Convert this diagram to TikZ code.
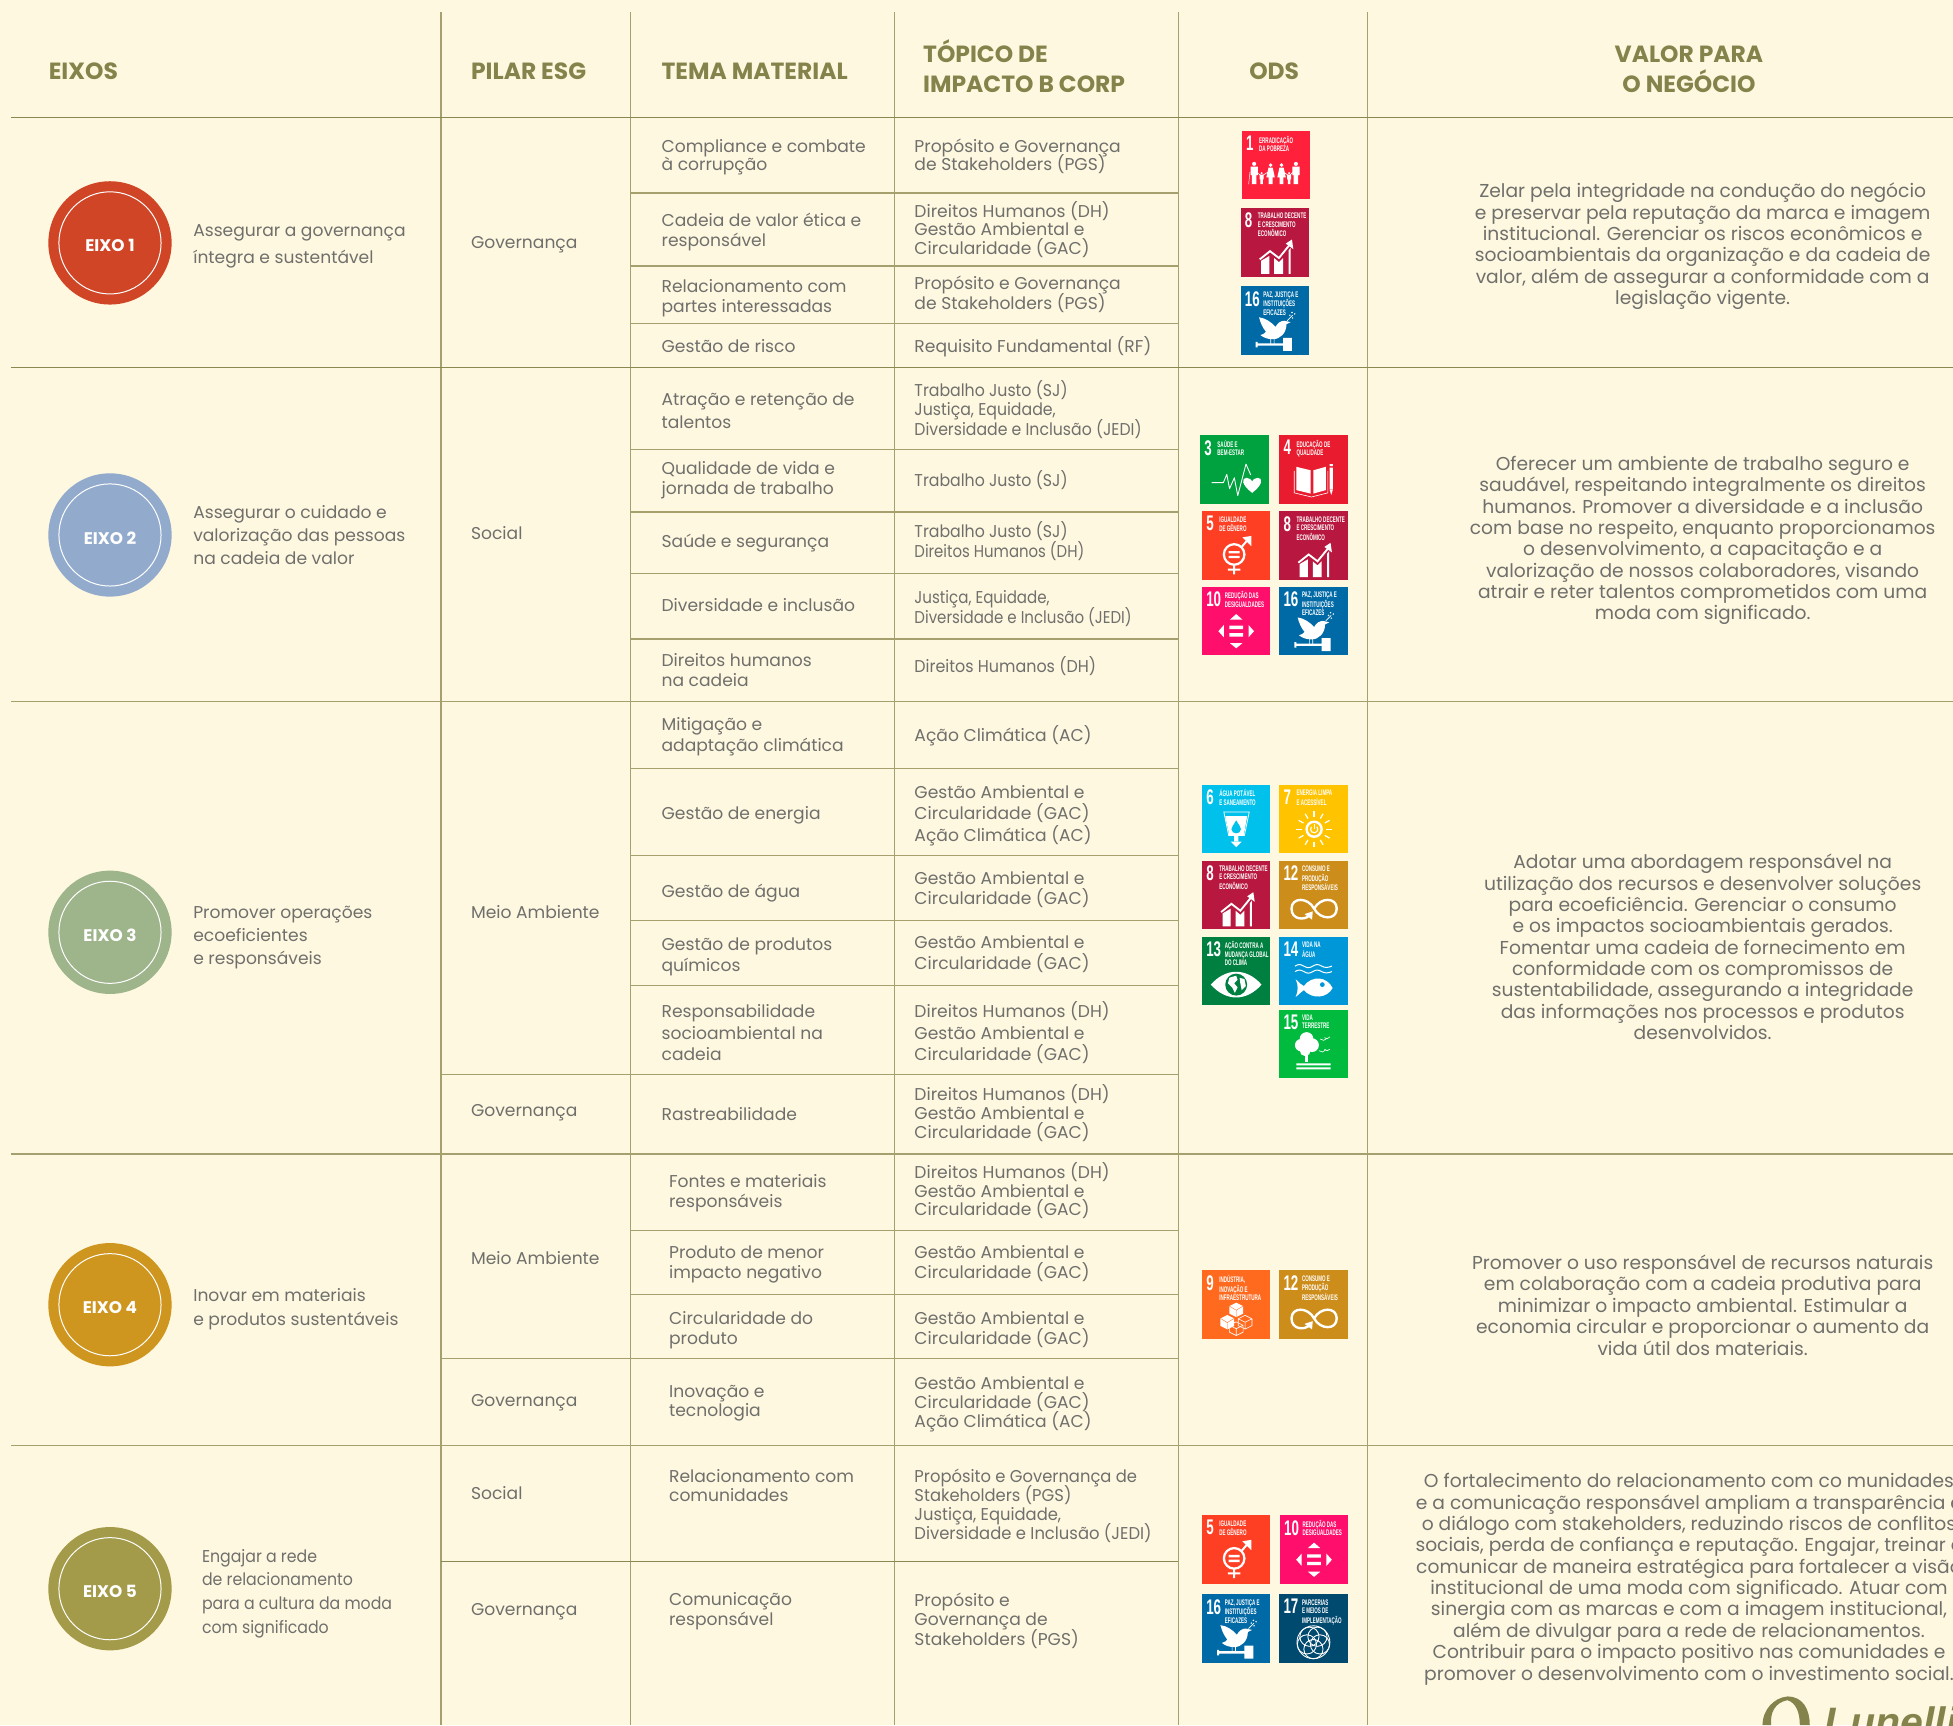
\documentclass[tikz,border=0pt]{standalone}
\usepackage{fontspec}
\setmainfont{Poppins}
\newfontfamily\sdgf{Liberation Sans}
\AtBeginDocument{\lineskiplimit=-100pt}
\definecolor{bgc}{HTML}{FFF8E0}
\definecolor{txt}{HTML}{6F6F6C}
\definecolor{head}{HTML}{85834C}
\definecolor{rule}{HTML}{A6A06E}
\definecolor{ruled}{HTML}{8B8751}
\newcommand{\bsz}{13.75}
\newcommand{\vp}{\vphantom{Ág}}
\newcommand{\sq}[2]{\scalebox{#1}[1]{#2}}
\newcommand{\cellTema}[4]{\node[cellx,font={\fontsize{\bsz}{#3}\selectfont}] (#1) at (531,#2) {\vp#4\vp};}
\newcommand{\cellTemb}[4]{\node[cellx,font={\fontsize{\bsz}{#3}\selectfont}] (#1) at (537,#2) {\vp#4\vp};}
\newcommand{\cellTop}[4]{\node[cellx,font={\fontsize{\bsz}{#3}\selectfont}] (#1) at (734,#2) {\vp#4\vp};}
\newcommand{\cellPil}[3]{\node[cellx,font={\fontsize{\bsz}{16}\selectfont}] (#1) at (378,#2) {\vp#3\vp};}
\newcommand{\cellObj}[5]{\node[cellx,font={\fontsize{\bsz}{#4}\selectfont}] (#1) at (#2,#3) {\vp#5\vp};}
\newcommand{\cellVal}[4]{\node[cellx,anchor=center,align=center,font={\fontsize{15}{17.15}\selectfont}] (#1) at (#2,#3) {\vp#4\vp};}
\newcommand{\eixo}[4]{%
  \node[circle,fill=#3,minimum size=99pt,inner sep=0] (#1) at (88.3,#2) {};
  \node[circle,draw=white,line width=0.8pt,minimum size=82pt,inner sep=0] (#1r) at (88.3,#2) {};
  \node[text=white,font={\fontsize{13.5}{14}\bfseries\selectfont},inner sep=0] (#1t) at (88.3,#2+2.3) {#4};}
% tile: name x y colour number labelx labels icon
\newcommand{\sdg}[8]{%
  \begin{scope}[shift={(#2,#3)},x=.55pt,y=-.55pt]
  \fill[#4] (0,0) rectangle (100,100);
  \node[anchor=north west,inner sep=0,text=white,font={\sdgf\fontsize{17}{17}\bfseries\selectfont}] (#1n) at (6,7) {\sq{.63}{#5}};
  \node[anchor=north west,inner sep=0,text=white,font={\sdgf\fontsize{6.5}{6.6}\bfseries\selectfont}] (#1l) at (#6,7) {\sq{.56}{\lineskiplimit=0pt\begin{tabular}{@{}l@{}}#7\end{tabular}}};
  \begin{scope}[white,fill=white,draw=white]
  #8
  \end{scope}
  \end{scope}}
\newcommand{\prs}[3]{\begin{scope}[shift={(#1,#2)},scale=#3]
  \fill (0,10) circle[radius=9];
  \fill (-16,22) -- (16,22) -- (16,60) -- (10,60) -- (10,100) -- (-10,100) -- (-10,60) -- (-16,60) -- cycle;
  \end{scope}}
\newcommand{\prw}[3]{\begin{scope}[shift={(#1,#2)},scale=#3]
  \fill (0,10) circle[radius=9];
  \fill (-10,22) -- (10,22) -- (20,68) -- (9,68) -- (9,100) -- (-9,100) -- (-9,68) -- (-20,68) -- cycle;
  \end{scope}}
\newcommand{\icPov}{\prs{18}{45}{.33}\prs{29}{60}{.18}\prw{42}{47}{.31}\prw{58}{47}{.31}\prs{69}{60}{.18}\prs{79}{45}{.33}
  \draw[line width=.5pt] (15,56)--(29,66) (29,66)--(42,58) (58,58)--(69,66)--(79,56);
  \draw[line width=.4pt] (12,60)--(10,78);}
\newcommand{\icGrow}{\fill (30,96)--(30,77)--(42,70)--(42,96)--cycle (49,96)--(49,73)--(56,79)--(62,73)--(62,96)--cycle (70,96)--(70,62)--(73,58)--(73,96)--(70,96)--cycle;
  \draw[line width=1.5pt] (28,75)--(43,63)--(56,73)--(73,52);
  \fill (75,46)--(77,60)--(66,52)--cycle;}
\newcommand{\icDove}{\fill (27,45) .. controls (36,46) and (45,52) .. (51,59) .. controls (54,53) and (59,50) .. (64,50) -- (73,52) -- (67,55) .. controls (67,68) and (58,77) .. (47,77) .. controls (40,77) and (34,75) .. (29,71) .. controls (33,70) and (36,68) .. (37,66) .. controls (32,60) and (29,53) .. (27,45) -- cycle;
  \draw[line width=.5pt] (44,76)--(44,85) (49,76)--(49,85) (68,50)--(76,42);
  \fill (72,42) circle[radius=1.2] (76,46) circle[radius=1.2] (79,40) circle[radius=1.2] (75,38) circle[radius=1.2];
  \fill (22,83) rectangle (62,86.5) (62,75) rectangle (75,94) (22,81) rectangle (25,89);}
\newcommand{\icHeart}{\draw[line width=.7pt,line join=round] (17,69)--(34,69)--(39,57)--(43,78)--(50,62)--(55,88)--(67,42)--(74,58);
  \fill (76,84) .. controls (60,72) and (60,62) .. (68,62) .. controls (72,62) and (75,65) .. (76,67) .. controls (77,65) and (80,62) .. (84,62) .. controls (92,62) and (92,72) .. (76,84) -- cycle;}
\newcommand{\icBook}{\fill (25,46)--(46,51)--(46,85)--(25,80)--cycle (50,51)--(68,46)--(68,80)--(50,85)--cycle;
  \draw[line width=.5pt] (22,52)--(22,84)--(47,90)--(71,84)--(71,52);
  \fill (73.5,42) rectangle (78.5,45) (73.5,47) rectangle (78.5,78) (73.5,79)--(78.5,79)--(76,87)--cycle;}
\newcommand{\icGender}{\draw[line width=1.8pt] (47,63) circle[radius=15];
  \fill (39,58) rectangle (55,61.5) (39,65) rectangle (55,68.5);
  \draw[line width=1.6pt] (47,78)--(47,92) (38,85)--(56,85) (58,52)--(69,39);
  \fill (72,36)--(72,51)--(59,38)--cycle;}
\newcommand{\icIneq}{\fill (50,40)--(59,48)--(41,48)--cycle (50,90)--(59,82.5)--(41,82.5)--cycle (24,65)--(32,56)--(32,74)--cycle (76,65)--(68,56)--(68,74)--cycle (40,57) rectangle (60,62) (40,68) rectangle (60,73);}
\newcommand{\icWater}[1]{\fill (34,46)--(66,46)--(61,74)--(40,74)--cycle;
  \draw[line width=.6pt] (32,40)--(69,40)--(62,74)--(39,74)--cycle;
  \fill[#1] (50,52) .. controls (46,59) and (43,62) .. (43,65) .. controls (43,69) and (47,71) .. (50,71) .. controls (53,71) and (57,69) .. (57,65) .. controls (57,62) and (54,59) .. (50,52) -- cycle;
  \fill (47,74) rectangle (53,84) (42,83)--(58,83)--(50,91)--cycle;}
\newcommand{\icSun}{\draw[line width=1.9pt] (51,65) circle[radius=11];
  \draw[line width=.9pt] (47,61.5) arc[start angle=220,end angle=-40,radius=5.3];
  \draw[line width=.9pt] (51,58)--(51,65);
  \foreach \a in {0,30,...,330}{\draw[line width=1pt] (51,65) ++(\a:18) -- ++(\a:8);}}
\newcommand{\icInf}{\draw[line width=1.9pt] (51,70) .. controls (60,53) and (84,53) .. (84,70) .. controls (84,87) and (60,87) .. (51,70) .. controls (42,53) and (18,53) .. (18,70) .. controls (18,87) and (38,87) .. (44,80);
  \fill (37,78)--(49,74)--(48,86)--cycle;}
\newcommand{\icEye}[1]{\fill (13,70) .. controls (35,45) and (65,45) .. (87,70) .. controls (65,95) and (35,95) .. (13,70) -- cycle;
  \fill[#1] (50,70) circle[radius=16];
  \fill (40,60) -- (50,57) -- (52,63) -- (47,68) -- (52,74) -- (48,82) -- (44,74) -- (38,68) -- cycle (55,60) -- (62,62) -- (64,72) -- (58,78) -- (56,68) -- cycle;}
\newcommand{\icFish}[1]{\draw[line width=.8pt] (23,43) .. controls (28,40) and (31,40) .. (36,43) .. controls (41,46) and (44,46) .. (49,43) .. controls (54,40) and (57,40) .. (62,43) .. controls (67,46) and (72,45) .. (77,43);
  \draw[line width=.8pt] (23,51) .. controls (28,48) and (31,48) .. (36,51) .. controls (41,54) and (44,54) .. (49,51) .. controls (54,48) and (57,48) .. (62,51) .. controls (67,54) and (72,53) .. (77,51);
  \fill (24,62) .. controls (30,68) and (32,70) .. (36,72) .. controls (48,56) and (70,58) .. (78,75) .. controls (70,90) and (48,92) .. (36,78) .. controls (32,80) and (30,84) .. (24,88) .. controls (28,80) and (28,70) .. (24,62) -- cycle;
  \fill[#1] (63,70) circle[radius=3.5];}
\newcommand{\icTree}{\fill (40,43) circle[radius=10] (32,52) circle[radius=9] (48,52) circle[radius=10] (38,60) circle[radius=8];
  \fill (38,64) rectangle (42,76);
  \fill (25,78.5) rectangle (75,81.5) (25,84.5) rectangle (75,87.5);
  \draw[line width=.5pt] (60,43)--(65,45)--(70,42) (66,41)--(70,42.5)--(74,40) (58,60)--(63,62)--(68,59) (66,58)--(70,60)--(74,58);}
\newcommand{\cubeic}[2]{\begin{scope}[shift={(#1,#2)}]
  \draw[line width=.5pt,line join=round] (0,-10)--(10,-5)--(10,5)--(0,10)--(-10,5)--(-10,-5)--cycle (0,0)--(0,10) (0,0)--(-10,-5) (0,0)--(10,-5);
  \end{scope}}
\newcommand{\icCube}[1]{\fill (50,47)--(60,52)--(60,63)--(50,68)--(40,63)--(40,52)--cycle;
  \fill (37,65)--(47,70)--(47,81)--(37,86)--(27,81)--(27,70)--cycle;
  \cubeic{63}{75.5}\cubeic{50}{85}
  \draw[#1,line width=.3pt] (50,58)--(50,68) (50,58)--(40,52) (50,58)--(60,52) (37,76)--(37,86) (37,76)--(27,70) (37,76)--(47,70);}
\newcommand{\icPart}{\foreach \a in {18,90,162,234,306}{\draw[line width=.7pt] (50,70) ++(\a:10) circle[radius=14];}
  \draw[line width=.7pt] (50,70) circle[radius=24];}
\begin{document}
\begin{tikzpicture}[x=1pt,y=-1pt,
  cellx/.style={anchor=west,align=left,inner sep=0,text=txt,yshift=-0.7pt},
  hdr/.style={inner sep=0,text=head,font={\fontsize{18.8}{24}\bfseries\selectfont}},
  rl/.style={draw=rule,line width=1pt},
  rd/.style={draw=ruled,line width=1pt}]
\useasboundingbox (0,0) rectangle (1568,1385);
\fill[bgc] (0,0) rectangle (1568,1385);
\begin{scope}
\clip (0,0) rectangle (1568,1385);
% verticals
\foreach \x in {354,506,718,946,1098}{\draw[rl] (\x,10)--(\x,1385);}
% section rules
\draw[rd] (9,94.5)--(1568,94.5);
\draw[rd] (9,295)--(1568,295);
\draw[rl] (9,563.5)--(1568,563.5);
\draw[rl] (9,926.5)--(1568,926.5);
\draw[rl] (9,1160.5)--(1568,1160.5);
% sub rules
\foreach \y in {155,213.5,260,361,411,460.5,513,617,687,739,791.5}{\draw[rl] (506,\y)--(946,\y);}
\draw[rl] (354,862.5)--(946,862.5);
\foreach \y in {988,1039.5}{\draw[rl] (506,\y)--(946,\y);}
\draw[rl] (354,1090.5)--(946,1090.5);
\draw[rd] (354,1253.5)--(946,1253.5);
% header
\node[hdr,anchor=west] (hEixos) at (39,57) {\vp EIXOS\vp};
\node[hdr,anchor=west] (hPilar) at (378,57) {\vp PILAR ESG\vp};
\node[hdr,anchor=west] (hTema) at (531,57) {\vp TEMA MATERIAL\vp};
\node[hdr,anchor=west,align=left] (hTop) at (741,55.8) {\vp TÓPICO DE\\IMPACTO B CORP\vp};
\node[hdr] (hOds) at (1023,57) {\vp ODS\vp};
\node[hdr,align=center] (hVal) at (1356,55.8) {\vp VALOR PARA\\O NEGÓCIO\vp};
% eixos
\definecolor{e1}{HTML}{CF4526}\definecolor{e2}{HTML}{92ABCC}\definecolor{e3}{HTML}{9EB48B}\definecolor{e4}{HTML}{CE951F}\definecolor{e5}{HTML}{A39B49}
\eixo{ca}{195}{e1}{EIXO 1}
\eixo{cb}{429.5}{e2}{EIXO 2}
\eixo{cc}{748.5}{e3}{EIXO 3}
\eixo{cd}{1047.5}{e4}{EIXO 4}
\eixo{ce}{1275.5}{e5}{EIXO 5}
\cellObj{oa}{155}{195.5}{21}{Assegurar a governança\\íntegra e sustentável}
\cellObj{ob}{155}{429.5}{18.5}{Assegurar o cuidado e\\valorização das pessoas\\na cadeia de valor}
\cellObj{oc}{155}{750.5}{18.5}{Promover operações\\ecoeficientes\\e responsáveis}
\cellObj{od}{155}{1049.5}{19}{Inovar em materiais\\e produtos sustentáveis}
\cellObj{oe}{162}{1277.5}{19}{\sq{.92}{Engajar a rede}\\\sq{.92}{de relacionamento}\\\sq{.92}{para a cultura da moda}\\\sq{.92}{com significado}}
% pilar
\cellPil{pa}{194}{Governança}
\cellPil{pb}{428}{Social}
\cellPil{pc}{732}{Meio Ambiente}
\cellPil{pd}{891}{Governança}
\cellPil{pe}{1010}{Meio Ambiente}
\cellPil{pf}{1124}{Governança}
\cellPil{pg}{1199}{Social}
\cellPil{ph}{1292}{Governança}
% tema
\cellTema{ta}{124.5}{15}{Compliance e combate\\à corrupção}
\cellTema{tb}{185}{16}{Cadeia de valor ética e\\responsável}
\cellTema{tc}{238}{16}{Relacionamento com\\partes interessadas}
\cellTema{td}{278}{16}{Gestão de risco}
\cellTema{te}{329.5}{19}{Atração e retenção de\\talentos}
\cellTema{tf}{384}{16}{Qualidade de vida e\\jornada de trabalho}
\cellTema{tg}{434}{16}{Saúde e segurança}
\cellTema{th}{486}{16}{Diversidade e inclusão}
\cellTema{ti}{538}{16}{Direitos humanos\\na cadeia}
\cellTema{tj}{590}{17}{Mitigação e\\adaptação climática}
\cellTema{tk}{653}{16}{Gestão de energia}
\cellTema{tl}{715}{16}{Gestão de água}
\cellTema{tm}{766.5}{17}{Gestão de produtos\\químicos}
\cellTema{tn}{829}{17}{Responsabilidade\\socioambiental na\\cadeia}
\cellTema{to}{894}{16}{Rastreabilidade}
\cellTemb{tp}{956}{16}{Fontes e materiais\\responsáveis}
\cellTemb{tq}{1013}{16}{Produto de menor\\impacto negativo}
\cellTemb{tr}{1066}{16}{Circularidade do\\produto}
\cellTemb{ts}{1124.5}{15.5}{Inovação e\\tecnologia}
\cellTemb{tt}{1192.5}{15.5}{Relacionamento com\\comunidades}
\cellTemb{tu}{1292}{16}{Comunicação\\responsável}
% topico
\cellTop{ia}{124.5}{15}{Propósito e Governança\\de Stakeholders (PGS)}
\cellTop{ib}{184}{15}{Direitos Humanos (DH)\\Gestão Ambiental e\\Circularidade (GAC)}
\cellTop{ic}{235}{16}{Propósito e Governança\\de Stakeholders (PGS)}
\cellTop{id}{278}{16}{Requisito Fundamental (RF)}
\cellTop{ie}{328.5}{15.5}{\sq{.92}{Trabalho Justo (SJ)}\\\sq{.92}{Justiça, Equidade,}\\\sq{.917}{Diversidade e Inclusão (JEDI)}}
\cellTop{if}{385}{16}{\sq{.92}{Trabalho Justo (SJ)}}
\cellTop{ig}{434}{16}{\sq{.92}{Trabalho Justo (SJ)}\\\sq{.87}{Direitos Humanos (DH)}}
\cellTop{ih}{487}{16}{\sq{.88}{Justiça, Equidade,}\\\sq{.877}{Diversidade e Inclusão (JEDI)}}
\cellTop{ii}{535}{16}{\sq{.93}{Direitos Humanos (DH)}}
\cellTop{ij}{590}{16}{Ação Climática (AC)}
\cellTop{ik}{653}{17.5}{Gestão Ambiental e\\Circularidade (GAC)\\Ação Climática (AC)}
\cellTop{il}{713}{16}{Gestão Ambiental e\\Circularidade (GAC)}
\cellTop{im}{765}{17}{Gestão Ambiental e\\Circularidade (GAC)}
\cellTop{in}{829}{17}{Direitos Humanos (DH)\\Gestão Ambiental e\\Circularidade (GAC)}
\cellTop{io}{893.5}{15.5}{Direitos Humanos (DH)\\Gestão Ambiental e\\Circularidade (GAC)}
\cellTop{ip}{956}{15}{Direitos Humanos (DH)\\Gestão Ambiental e\\Circularidade (GAC)}
\cellTop{iq}{1013}{16}{Gestão Ambiental e\\Circularidade (GAC)}
\cellTop{ir}{1066}{16}{Gestão Ambiental e\\Circularidade (GAC)}
\cellTop{is}{1125.5}{15.5}{Gestão Ambiental e\\Circularidade (GAC)\\Ação Climática (AC)}
\cellTop{it}{1208}{15.3}{\sq{.955}{Propósito e Governança de}\\\sq{.955}{Stakeholders (PGS)}\\\sq{.955}{Justiça, Equidade,}\\\sq{.957}{Diversidade e Inclusão (JEDI)}}
\cellTop{iu}{1300}{15.5}{Propósito e\\Governança de\\Stakeholders (PGS)}
% valor
\cellVal{va}{1367}{196}{Zelar pela integridade na condução do negócio\\e preservar pela reputação da marca e imagem\\institucional. Gerenciar os riscos econômicos e\\socioambientais da organização e da cadeia de\\valor, além de assegurar a conformidade com a\\legislação vigente.}
\cellVal{vb}{1367}{432}{Oferecer um ambiente de trabalho seguro e\\saudável, respeitando integralmente os direitos\\humanos. Promover a diversidade e a inclusão\\com base no respeito, enquanto proporcionamos\\o desenvolvimento, a capacitação e a\\valorização de nossos colaboradores, visando\\atrair e reter talentos comprometidos com uma\\moda com significado.}
\cellVal{vc}{1367}{760.5}{Adotar uma abordagem responsável na\\utilização dos recursos e desenvolver soluções\\para ecoeficiência. Gerenciar o consumo\\e os impactos socioambientais gerados.\\Fomentar uma cadeia de fornecimento em\\conformidade com os compromissos de\\sustentabilidade, assegurando a integridade\\das informações nos processos e produtos\\desenvolvidos.}
\cellVal{vd}{1367}{1048}{Promover o uso responsável de recursos naturais\\em colaboração com a cadeia produtiva para\\minimizar o impacto ambiental. Estimular a\\economia circular e proporcionar o aumento da\\vida útil dos materiais.}
\cellVal{ve}{1356}{1266}{O fortalecimento do relacionamento com co munidades\\e a comunicação responsável ampliam a transparência e\\o diálogo com stakeholders, reduzindo riscos de conflitos\\sociais, perda de confiança e reputação. Engajar, treinar e\\comunicar de maneira estratégica para fortalecer a visão\\institucional de uma moda com significado. Atuar com\\sinergia com as marcas e com a imagem institucional,\\além de divulgar para a rede de relacionamentos.\\Contribuir para o impacto positivo nas comunidades e\\promover o desenvolvimento com o investimento social.}
% SDG tiles
\definecolor{s1}{HTML}{FF213C}\definecolor{s3}{HTML}{00A13F}\definecolor{s4}{HTML}{E81C2E}\definecolor{s5}{HTML}{FF3F24}
\definecolor{s6}{HTML}{00C1EC}\definecolor{s7}{HTML}{FFC300}\definecolor{s8}{HTML}{B8183F}\definecolor{s9}{HTML}{FF6A1F}
\definecolor{s10}{HTML}{FF0F6B}\definecolor{s12}{HTML}{CD8D1A}\definecolor{s13}{HTML}{008040}\definecolor{s14}{HTML}{0097D8}
\definecolor{s15}{HTML}{00BB3E}\definecolor{s16}{HTML}{006AA6}\definecolor{s17}{HTML}{004A70}
\newcommand{\labA}{ERRADICAÇÃO\\DA POBREZA}
\newcommand{\labH}{TRABALHO DECENTE\\E CRESCIMENTO\\ECONÔMICO}
\newcommand{\labP}{PAZ, JUSTIÇA E\\INSTITUIÇÕES\\EFICAZES}
\newcommand{\labC}{SAÚDE E\\BEM-ESTAR}
\newcommand{\labD}{EDUCAÇÃO DE\\QUALIDADE}
\newcommand{\labE}{IGUALDADE\\DE GÊNERO}
\newcommand{\labJ}{REDUÇÃO DAS\\DESIGUALDADES}
\newcommand{\labF}{ÁGUA POTÁVEL\\E SANEAMENTO}
\newcommand{\labG}{ENERGIA LIMPA\\E ACESSÍVEL}
\newcommand{\labL}{CONSUMO E\\PRODUÇÃO\\RESPONSÁVEIS}
\newcommand{\labM}{AÇÃO CONTRA A\\MUDANÇA GLOBAL\\DO CLIMA}
\newcommand{\labN}{VIDA NA\\ÁGUA}
\newcommand{\labO}{VIDA\\TERRESTRE}
\newcommand{\labI}{INDÚSTRIA,\\INOVAÇÃO E\\INFRAESTRUTURA}
\newcommand{\labQ}{PARCERIAS\\E MEIOS DE\\IMPLEMENTAÇÃO}
\sdg{a1}{997}{105}{s1}{1}{25}{\labA}{\icPov}
\sdg{a8}{996}{167}{s8}{8}{25}{\labH}{\icGrow}
\sdg{a16}{996}{230}{s16}{16}{33}{\labP}{\icDove}
\sdg{b3}{963.5}{349.5}{s3}{3}{25}{\labC}{\icHeart}
\sdg{b4}{1027}{349.5}{s4}{4}{25}{\labD}{\icBook}
\sdg{b5}{965}{410.5}{s5}{5}{25}{\labE}{\icGender}
\sdg{b8}{1027}{410.5}{s8}{8}{25}{\labH}{\icGrow}
\sdg{b10}{965}{471}{s10}{10}{33}{\labJ}{\icIneq}
\sdg{b16}{1027}{471}{s16}{16}{33}{\labP}{\icDove}
\sdg{c6}{965}{630}{s6}{6}{25}{\labF}{\icWater{s6}}
\sdg{c7}{1027}{630}{s7}{7}{25}{\labG}{\icSun}
\sdg{c8}{965}{691}{s8}{8}{25}{\labH}{\icGrow}
\sdg{c12}{1027}{691}{s12}{12}{33}{\labL}{\icInf}
\sdg{c13}{965}{752}{s13}{13}{33}{\labM}{\icEye{s13}}
\sdg{c14}{1027}{752}{s14}{14}{33}{\labN}{\icFish{s14}}
\sdg{c15}{1027}{810.5}{s15}{15}{33}{\labO}{\icTree}
\sdg{d9}{965}{1020}{s9}{9}{25}{\labI}{\icCube{s9}}
\sdg{d12}{1027}{1020}{s12}{12}{33}{\labL}{\icInf}
\sdg{e5}{965}{1216.5}{s5}{5}{25}{\labE}{\icGender}
\sdg{e10}{1027.5}{1216.5}{s10}{10}{33}{\labJ}{\icIneq}
\sdg{e16}{965}{1280}{s16}{16}{33}{\labP}{\icDove}
\sdg{e17}{1027}{1280}{s17}{17}{33}{\labQ}{\icPart}
% logo
\fill[head,even odd rule] (1435,1362) .. controls (1448,1362) and (1453,1373) .. (1453,1385) -- (1445,1385) .. controls (1445,1375) and (1442,1367) .. (1435,1365) .. controls (1425,1367) and (1421,1375) .. (1422,1385) -- (1415,1385) .. controls (1415,1373) and (1424,1363) .. (1435,1362) -- cycle;
\node[anchor=base west,inner sep=0,text=head,font={\sdgf\fontsize{33}{33}\bfseries\itshape\selectfont}] (logo) at (1465,1394.5) {Lunelli};
\end{scope}
\end{tikzpicture}
\end{document}
